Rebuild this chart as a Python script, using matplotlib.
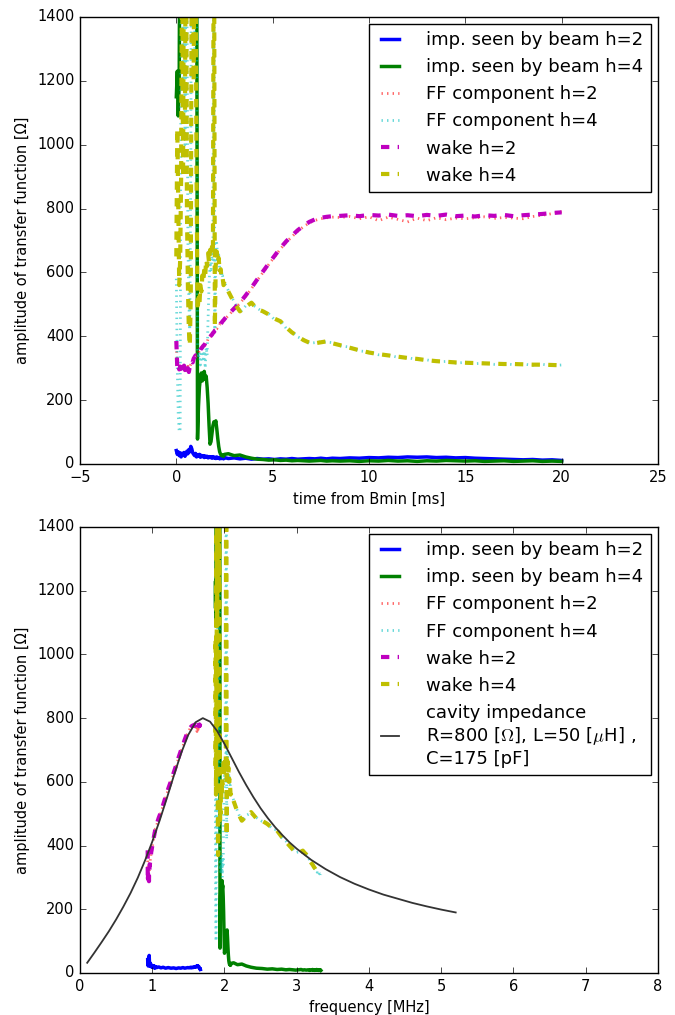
import matplotlib
matplotlib.use('Agg')
import matplotlib.pyplot as plt

# time from Bmin [ms] of every sample
t_ms = [0.00, 0.05, 0.10, 0.15, 0.20, 0.25, 0.30, 0.35, 0.40, 0.45,
        0.50, 0.55, 0.60, 0.65, 0.70, 0.75, 0.80, 0.85, 0.90, 0.95,
        1.00, 1.05, 1.10, 1.15, 1.20, 1.25, 1.30, 1.35, 1.40, 1.45,
        1.50, 1.55, 1.60, 1.65, 1.70, 1.75, 1.80, 1.85, 1.90, 1.95,
        2.00, 2.05, 2.10, 2.15, 2.20, 2.25, 2.30, 2.35, 2.40, 2.45,
        2.50,
        2.7, 3.0, 3.3, 3.6, 3.9, 4.2, 4.5, 4.8, 5.1, 5.4,
        5.7, 6.0, 6.3, 6.6, 6.9, 7.2, 7.5, 7.8, 8.1,
        8.5, 9.0, 9.5, 10.0, 10.5, 11.0, 11.5, 12.0, 12.5, 13.0,
        13.5, 14.0, 14.5, 15.0, 15.5, 16.0, 16.5, 17.0, 17.5, 18.0,
        18.5, 19.0, 19.5, 20.0]

# rf frequency of h=2 at each sample [MHz] (h=4 is twice this)
freq_h2 = [0.937, 0.938, 0.940, 0.941, 0.942, 0.944, 0.945, 0.946, 0.948, 0.949,
           0.950, 0.952, 0.953, 0.955, 0.956, 0.958, 0.959, 0.961, 0.962, 0.964,
           0.965, 0.967, 0.969, 0.971, 0.973, 0.975, 0.977, 0.979, 0.981, 0.983,
           0.985, 0.988, 0.991, 0.994, 0.997, 1.000, 1.003, 1.006, 1.009, 1.012,
           1.015, 1.018, 1.021, 1.024, 1.027, 1.030, 1.033, 1.036, 1.039, 1.042,
           1.045,
           1.063, 1.090, 1.120, 1.151, 1.184, 1.221, 1.260, 1.296, 1.331, 1.364,
           1.395, 1.425, 1.449, 1.472, 1.493, 1.512, 1.530, 1.542, 1.553,
           1.566, 1.580, 1.588, 1.595, 1.603, 1.610, 1.615, 1.620, 1.625, 1.630,
           1.634, 1.638, 1.642, 1.645, 1.648, 1.650, 1.653, 1.655, 1.658, 1.660,
           1.662, 1.663, 1.665, 1.667]

imp_h2 = [42, 30, 38, 26, 35, 22, 33, 28, 36, 24,
          30, 40, 32, 45, 38, 55, 48, 35, 30, 26,
          33, 22, 28, 24, 30, 21, 27, 23, 26, 20,
          25, 22, 24, 19, 23, 20, 22, 18, 23, 19,
          21, 17, 22, 18, 20, 16, 21, 17, 19, 16,
          20,
          17, 19, 16, 18, 15, 17, 15, 16, 14, 16,
          15, 17, 15, 16, 17, 16, 18, 16, 18,
          17, 19, 18, 20, 19, 21, 20, 22, 21, 22,
          20, 21, 19, 20, 18, 17, 16, 15, 14, 13,
          14, 12, 13, 11]

imp_h4 = [1150, 1230, 1090, 1210, 2000, 2000, 2000, 2000, 2000, 2000,
          2000, 2000, 2000, 2000, 2000, 2000, 2000, 2000, 2000, 2000,
          2000, 2000, 78, 180, 240, 270, 285, 260, 280, 290,
          265, 275, 240, 190, 120, 62, 70, 95, 120, 132,
          125, 135, 110, 80, 55, 38, 30, 26, 28, 24,
          30,
          32, 26, 28, 22, 18, 15, 14, 12, 13, 11,
          12, 10, 11, 10, 9, 10, 11, 9, 10,
          9, 10, 8, 10, 9, 11, 9, 10, 8, 10,
          9, 11, 10, 9, 10, 8, 9, 10, 8, 9,
          10, 8, 9, 8]

ff_h2 = [370, 310, 302, 300, 298, 306, 304, 296, 312, 300,
         298, 296, 306, 292, 300, 312, 318, 324, 326, 332,
         336, 342, 341, 348, 355, 356, 360, 368, 367, 375,
         376, 384, 383, 392, 392, 400, 400, 407, 408, 415,
         416, 422, 423, 430, 430, 437, 438, 444, 445, 452,
         452,
         465, 484, 503, 525, 549, 575, 600, 625, 649, 673,
         694, 712, 729, 743, 755, 763, 768, 771, 773,
         772, 775, 768, 774, 762, 773, 766, 758, 770, 762,
         771, 765, 770, 768, 771, 774, 769, 772, 770, 768,
         775, 779, 784, 790]

ff_h4 = [580, 300, 150, 100, 110, 1600, 1900, 1200, 2000, 1000,
         1800, 1500, 700, 500, 420, 900, 2100, 1500, 2000, 1300,
         1900, 1500, 360, 330, 350, 310, 340, 370, 320, 355,
         300, 365, 340, 460, 560, 640, 600, 660, 640, 2000,
         420, 700, 690, 640, 655, 610, 615, 585, 590, 565,
         568,
         543, 508, 475, 495, 502, 488, 476, 470, 452, 449,
         425, 414, 398, 390, 378, 380, 383, 382, 380,
         370, 366, 354, 351, 342, 341, 334, 333, 327, 326,
         320, 321, 316, 318, 314, 316, 312, 314, 311, 313,
         309, 312, 308, 310]

wake_h2 = [385, 300, 310, 296, 305, 298, 312, 300, 308, 294,
           303, 290, 300, 288, 305, 315, 322, 318, 330, 335,
           340, 338, 345, 350, 352, 358, 362, 366, 370, 372,
           378, 382, 385, 390, 394, 398, 402, 405, 410, 413,
           418, 420, 425, 428, 432, 435, 440, 442, 447, 450,
           454,
           468, 487, 505, 528, 552, 578, 603, 628, 652, 676,
           697, 715, 732, 746, 758, 766, 771, 774, 776,
           777, 779, 776, 780, 778, 781, 777, 779, 776, 780,
           777, 781, 776, 778, 775, 779, 777, 780, 776, 779,
           781, 783, 786, 788]

wake_h4 = [650, 1050, 820, 560, 640, 900, 1700, 900, 1800, 1100,
           1900, 800, 560, 420, 370, 520, 1700, 2000, 1200, 1900,
           1600, 900, 480, 520, 500, 560, 540, 590, 570, 610,
           590, 640, 620, 660, 630, 670, 650, 680, 660, 2000,
           430, 640, 665, 630, 645, 600, 610, 580, 585, 560,
           565,
           540, 505, 478, 492, 505, 485, 478, 468, 455, 447,
           428, 412, 400, 388, 380, 378, 381, 384, 378,
           372, 364, 356, 349, 344, 340, 336, 332, 329, 325,
           322, 320, 318, 317, 316, 315, 314, 313, 313, 312,
           311, 311, 310, 309]

# cavity impedance curve
cav_f = [0.1, 0.2, 0.3, 0.4, 0.5, 0.6, 0.7, 0.8, 0.9, 1.0,
         1.1, 1.2, 1.3, 1.4, 1.5, 1.6, 1.7, 1.8, 1.9, 2.0,
         2.1, 2.2, 2.3, 2.4, 2.5, 2.6, 2.7, 2.8, 2.9, 3.0,
         3.2, 3.4, 3.6, 3.8, 4.0, 4.2, 4.4, 4.6, 4.8, 5.0, 5.2]
cav_z = [32, 64, 97, 131, 168, 208, 251, 299, 353, 412,
         477, 547, 620, 690, 748, 787, 800, 789, 759, 719,
         675, 631, 590, 552, 517, 486, 458, 433, 410, 390,
         355, 326, 301, 280, 262, 246, 233, 220, 209, 199, 190]

freq_h4 = [2 * f for f in freq_h2]

plt.style.use('classic')
plt.rcParams['figure.facecolor'] = 'white'
plt.rcParams['savefig.facecolor'] = 'white'

fig = plt.figure(figsize=(6.75, 10.15), dpi=100)
ax1 = fig.add_axes([0.1185, 0.5429, 0.8563, 0.4404])
ax2 = fig.add_axes([0.1185, 0.0414, 0.8563, 0.4394])


def draw_series(ax, x2, x4):
    ax.plot(x2, imp_h2, 'b-', lw=2.5, label='imp. seen by beam h=2')
    ax.plot(x4, imp_h4, 'g-', lw=2.5, label='imp. seen by beam h=4')
    ax.plot(x2, ff_h2, 'r:', lw=2, alpha=0.6, label='FF component h=2')
    ax.plot(x4, ff_h4, 'c:', lw=2, alpha=0.6, label='FF component h=4')
    ax.plot(x2, wake_h2, 'm--', lw=3, label='wake h=2')
    ax.plot(x4, wake_h4, 'y--', lw=3, label='wake h=4')


def legend(ax):
    ax.legend(loc='upper right', fontsize=13, handlelength=1.6,
              handletextpad=1.2, borderaxespad=0.4)


draw_series(ax1, t_ms, t_ms)
ax1.set_xlim(-5, 25)
ax1.set_ylim(0, 1400)
ax1.set_xlabel('time from Bmin [ms]', fontsize=10.5)
ax1.set_ylabel('amplitude of transfer function [Ω]', fontsize=10.5)
legend(ax1)

draw_series(ax2, freq_h2, freq_h4)
ax2.plot(cav_f, cav_z, color='#333333', lw=1.3,
         label='cavity impedance\nR=800 [$\\Omega$], L=50 [$\\mu$H] ,\nC=175 [pF]')
ax2.set_xlim(0, 8)
ax2.set_ylim(0, 1400)
ax2.set_xlabel('frequency [MHz]', fontsize=10.5)
ax2.set_ylabel('amplitude of transfer function [Ω]', fontsize=10.5)
legend(ax2)

for ax in (ax1, ax2):
    ax.tick_params(labelsize=10.5)
    ax.set_yticks(range(0, 1401, 200))

fig.savefig('out.png', dpi=100)
